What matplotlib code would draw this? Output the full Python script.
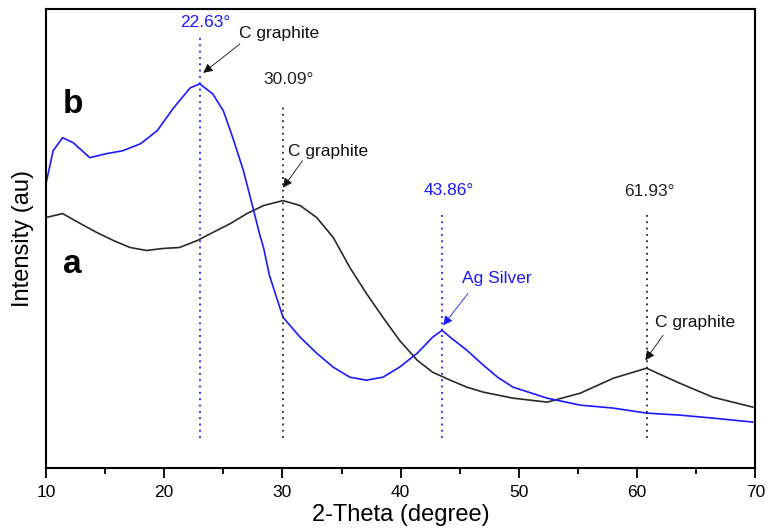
import matplotlib
matplotlib.use("Agg")
import matplotlib.pyplot as plt
from matplotlib.ticker import MultipleLocator, NullLocator

plt.rcParams['font.family'] = ['Liberation Sans', 'DejaVu Sans']

# sample b (blue)
b_theta = [10.0, 10.6, 11.4, 12.3, 13.7, 15.1, 16.5, 18.0, 19.4, 20.8, 22.2, 23.0,
           24.1, 25.0, 25.8, 26.7, 27.5, 28.1, 28.4, 28.9, 30.05, 31.5, 32.9, 34.3,
           35.7, 37.1, 38.5, 39.9, 41.4, 42.7, 43.5, 44.2, 45.6, 47.0, 48.2, 49.5,
           52.4, 55.2, 58.0, 60.8, 63.6, 66.4, 69.8]
b_int = [285, 318, 331, 326, 311, 315, 318, 325, 338, 361, 381, 385,
         375, 358, 331, 298, 261, 233, 221, 193, 151, 131, 115, 101,
         91, 88, 91, 101, 115, 131, 138, 131, 118, 103, 91, 81,
         70, 63, 60, 55, 53, 50, 46]

# sample a (black)
a_theta = [10.0, 11.4, 12.9, 14.3, 15.7, 17.1, 18.5, 19.9, 21.3, 22.8, 24.1, 25.6,
           27.0, 28.4, 30.05, 31.5, 32.9, 34.3, 35.7, 37.1, 38.5, 39.9, 41.4, 42.7,
           44.2, 45.6, 47.0, 49.5, 52.4, 55.2, 58.0, 60.8, 63.6, 66.4, 69.8]
a_int = [251, 255, 245, 236, 228, 221, 218, 220, 221, 228, 236, 245,
         255, 263, 268, 263, 251, 231, 201, 175, 151, 128, 108, 96,
         88, 81, 76, 70, 66, 75, 90, 100, 85, 71, 61]

# peak markers: where the dotted line sits, its label, colour, top of line, label position
peak_pos = [23.0, 30.05, 43.5, 60.8]
peak_labels = ['22.63°', '30.09°', '43.86°', '61.93°']
peak_colors = ['#1a1aff', '#222222', '#1a1aff', '#222222']
peak_tops = [431, 365, 256, 254]
peak_label_xy = [(23.45, 446), (30.5, 389), (44.1, 278), (61.0, 277)]

# phase annotations: text, text position, arrow tip, arrow tail, colour
phase_text = ['C graphite', 'C graphite', 'Ag Silver', 'C graphite']
phase_xy = [(29.7, 435), (33.9, 317), (48.1, 190), (64.9, 146)]
phase_tip = [(23.3, 396), (30.05, 281), (43.6, 143), (60.7, 108)]
phase_tail = [(26.4, 425), (31.7, 308), (45.7, 175), (62.2, 133)]
phase_colors = ['#111111', '#111111', '#1a1aff', '#111111']

fig = plt.figure(figsize=(7.76, 5.30), dpi=100)
ax = fig.add_axes([0.0593, 0.117, 0.914, 0.866])

ax.plot(a_theta, a_int, color='#2a2a2a', lw=1.2)
ax.plot(b_theta, b_int, color='#1a1aff', lw=1.2)

for x, lab, c, top, (tx, ty) in zip(peak_pos, peak_labels, peak_colors, peak_tops, peak_label_xy):
    ax.plot([x, x], [30, top], color=c, lw=1.3, ls=(0, (1, 2.5)))
    ax.text(tx, ty, lab, color=c, fontsize=12.5, ha='center', va='center')

for t, (tx, ty), tip, tail, c in zip(phase_text, phase_xy, phase_tip, phase_tail, phase_colors):
    ax.text(tx, ty, t, color=c, fontsize=12.5, ha='center', va='center')
    ax.annotate('', xy=tip, xytext=tail,
                arrowprops=dict(arrowstyle='-|>', color=c, lw=0.6, mutation_scale=14,
                                shrinkA=0, shrinkB=0))

ax.text(11.4, 356, 'b', fontsize=24, fontweight='bold', ha='left', va='baseline')
ax.text(11.4, 195, 'a', fontsize=24, fontweight='bold', ha='left', va='baseline')

ax.set_xlim(10, 70)
ax.set_ylim(0, 460)
ax.xaxis.set_major_locator(MultipleLocator(10))
ax.xaxis.set_minor_locator(MultipleLocator(5))
ax.yaxis.set_major_locator(NullLocator())
ax.tick_params(axis='x', which='major', direction='out', length=7, width=1.3, labelsize=12.5, pad=5)
ax.tick_params(axis='x', which='minor', direction='out', length=4, width=1.3)
for s in ax.spines.values():
    s.set_linewidth(1.5)

ax.set_xlabel('2-Theta (degree)', fontsize=17, labelpad=3)
ax.set_ylabel('Intensity (au)', fontsize=17, labelpad=9)

fig.savefig('out.png', dpi=100)
